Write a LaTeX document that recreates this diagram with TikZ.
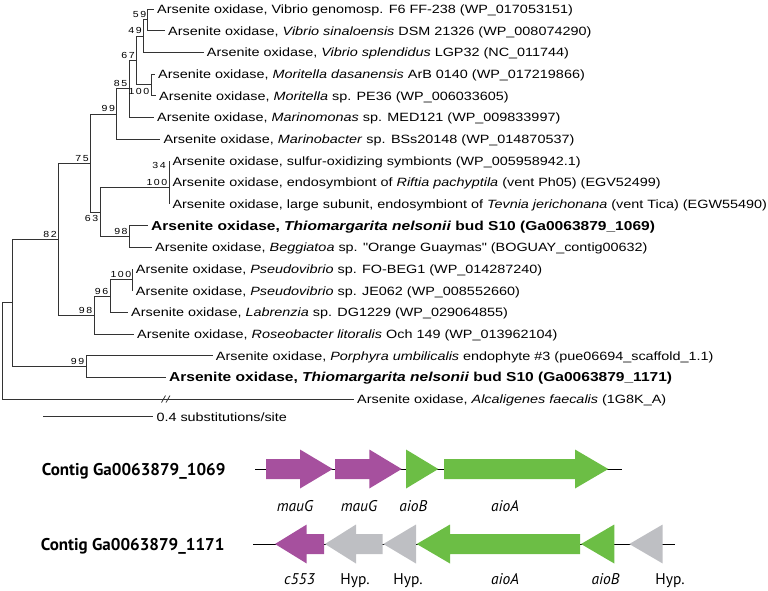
\documentclass[tikz,border=0pt]{standalone}
\usepackage{fontspec}
\setmainfont{Liberation Sans}
\newfontfamily\treefont[FakeStretch=1.2]{Liberation Sans}
\newfontfamily\genefont{PT Sans}
\definecolor{purp}{RGB}{166,80,158}
\definecolor{grn}{RGB}{108,190,69}
\definecolor{gry}{RGB}{190,191,195}
\newcommand\GeneArrow[5]{\fill[#5] (#1,#4-10) -- (#2,#4-10) -- (#2,#4-19.5) -- (#3,#4) -- (#2,#4+19.5) -- (#2,#4+10) -- (#1,#4+10) -- cycle;}
\newcommand\GeneTri[4]{\fill[#4] (#1,#3-19.5) -- (#2,#3) -- (#1,#3+19.5) -- cycle;}
\begin{document}
\begin{tikzpicture}[x=1pt,y=-1pt,
  br/.style={line width=0.9pt, draw=black!80},
  leaf/.style={anchor=west, inner xsep=3pt, inner ysep=0pt, text height=8.6pt, text depth=0pt, font=\treefont\fontsize{12}{14}\selectfont},
  bleaf/.style={leaf, text height=9.2pt, font=\treefont\bfseries\fontsize{12.95}{15}\selectfont},
  bs/.style={anchor=south east, inner sep=0pt, font=\treefont\fontsize{8.8}{10}\selectfont\addfontfeature{LetterSpace=18}},
  bsb/.style={bs, anchor=north east},
  glab/.style={anchor=base, inner sep=0pt, font=\genefont\itshape\fontsize{15.5}{18}\selectfont},
  hlab/.style={anchor=base, inner sep=0pt, font=\genefont\fontsize{15.5}{18}\selectfont},
  contig/.style={anchor=base west, inner sep=0pt, font=\genefont\bfseries\fontsize{17}{20}\selectfont},
  bb/.style={line width=0.9pt, draw=black}]
\useasboundingbox (0,0) rectangle (768,590);
% leaves
\node[leaf] (l1) at (154,9) {Arsenite oxidase, Vibrio genomosp. F6 FF-238 (WP\_017053151)};
\node[leaf] (l2) at (165,30.7) {Arsenite oxidase, \textit{Vibrio sinaloensis} DSM 21326 (WP\_008074290)};
\node[leaf] (l3) at (203.7,52.3) {Arsenite oxidase, \textit{Vibrio splendidus} LGP32 (NC\_011744)};
\node[leaf] (l4) at (155,74) {Arsenite oxidase, \textit{Moritella dasanensis} ArB 0140 (WP\_017219866)};
\node[leaf] (l5) at (156,95.7) {Arsenite oxidase, \textit{Moritella} sp. PE36 (WP\_006033605)};
\node[leaf] (l6) at (154,117.3) {Arsenite oxidase, \textit{Marinomonas} sp. MED121 (WP\_009833997)};
\node[leaf] (l7) at (160.3,139) {Arsenite oxidase, \textit{Marinobacter} sp. BSs20148 (WP\_014870537)};
\node[leaf] (l8) at (169.3,160.7) {Arsenite oxidase, sulfur-oxidizing symbionts (WP\_005958942.1)};
\node[leaf] (l9) at (169.3,182.3) {Arsenite oxidase, endosymbiont of \textit{Riftia pachyptila} (vent Ph05) (EGV52499)};
\node[leaf] (l10) at (169.3,204) {Arsenite oxidase, large subunit, endosymbiont of \textit{Tevnia jerichonana} (vent Tica) (EGW55490)};
\node[bleaf] (l11) at (148,225.7) {Arsenite oxidase, \textit{Thiomargarita nelsonii} bud S10 (Ga0063879\_1069)};
\node[leaf] (l12) at (152,247.3) {Arsenite oxidase, \textit{Beggiatoa} sp. "Orange Guaymas" (BOGUAY\_contig00632)};
\node[leaf] (l13) at (132.7,269) {Arsenite oxidase, \textit{Pseudovibrio} sp. FO-BEG1 (WP\_014287240)};
\node[leaf] (l14) at (132.7,290.7) {Arsenite oxidase, \textit{Pseudovibrio} sp. JE062 (WP\_008552660)};
\node[leaf] (l15) at (128,312.3) {Arsenite oxidase, \textit{Labrenzia} sp. DG1229 (WP\_029064855)};
\node[leaf] (l16) at (134,334) {Arsenite oxidase, \textit{Roseobacter litoralis} Och 149 (WP\_013962104)};
\node[leaf] (l17) at (212.7,355.7) {Arsenite oxidase, \textit{Porphyra umbilicalis} endophyte \#3 (pue06694\_scaffold\_1.1)};
\node[bleaf] (l18) at (166,377.3) {Arsenite oxidase, \textit{Thiomargarita nelsonii} bud S10 (Ga0063879\_1171)};
\node[leaf] (l19) at (354,399) {Arsenite oxidase, \textit{Alcaligenes faecalis} (1G8K\_A)};
% internal nodes
\coordinate (n59) at (147.7,19.85);
\coordinate (n49) at (143.3,36.1);
\coordinate (nM100) at (151.7,84.85);
\coordinate (n67) at (136.7,60.5);
\coordinate (n85) at (129.3,88.9);
\coordinate (n99) at (116.7,113.95);
\coordinate (n34) at (169.3,171.5);
\coordinate (nS100) at (169.3,187.75);
\coordinate (n98) at (129,236.5);
\coordinate (n63) at (100.7,212.1);
\coordinate (n75) at (90.7,163);
\coordinate (nP100) at (132.7,279.85);
\coordinate (n96) at (110,296.1);
\coordinate (n98b) at (94,315.05);
\coordinate (n82) at (58.7,239);
\coordinate (n99b) at (86,366.5);
\coordinate (nR) at (12.3,302.75);
\coordinate (root) at (2.7,350.9);
% branches
\draw[br] (n59) |- (l1.west) (n59) |- (l2.west);
\draw[br] (n49) |- (n59) (n49) |- (l3.west);
\draw[br] (nM100) |- (l4.west) (nM100) |- (l5.west);
\draw[br] (n67) |- (n49) (n67) |- (nM100);
\draw[br] (n85) |- (n67) (n85) |- (l6.west);
\draw[br] (n99) |- (n85) (n99) |- (l7.west);
\draw[br] (n34) |- (l8.west) (n34) |- (l9.west);
\draw[br] (nS100) |- (n34) (nS100) |- (l10.west);
\draw[br] (n98) |- (l11.west) (n98) |- (l12.west);
\draw[br] (n63) |- (nS100) (n63) |- (n98);
\draw[br] (n75) |- (n99) (n75) |- (n63);
\draw[br] (nP100) |- (l13.west) (nP100) |- (l14.west);
\draw[br] (n96) |- (nP100) (n96) |- (l15.west);
\draw[br] (n98b) |- (n96) (n98b) |- (l16.west);
\draw[br] (n82) |- (n75) (n82) |- (n98b);
\draw[br] (n99b) |- (l17.west) (n99b) |- (l18.west);
\draw[br] (nR) |- (n82) (nR) |- (n99b);
\draw[br] (root) |- (nR) (root) |- (l19.west);
% break mark
\draw[br, line width=0.8pt] (161.5,402.5) -- (165.5,395.5) (166,402.5) -- (170,395.5);
% bootstrap values
\node[bs] (b59) at (146.5,17.5) {59};
\node[bs] (b49) at (142,34) {49};
\node[bsb] (bM100) at (149.5,87.8) {100};
\node[bs] (b67) at (135,58.5) {67};
\node[bs] (b85) at (127.5,87) {85};
\node[bs] (b99) at (115.2,112) {99};
\node[bs] (b34) at (166,169) {34};
\node[bs] (bS100) at (167.5,185.5) {100};
\node[bsb] (b63) at (98.5,215) {63};
\node[bs] (b75) at (89,161.5) {75};
\node[bs] (b98) at (127.8,234.5) {98};
\node[bs] (b82) at (57,237.5) {82};
\node[bs] (bP100) at (131.5,278) {100};
\node[bs] (b96) at (108.5,294.5) {96};
\node[bs] (b98b) at (92.5,313.5) {98};
\node[bs] (b99b) at (84.5,365) {99};
% scale bar
\coordinate (sbL) at (43.3,416.7);
\node[leaf] (sbT) at (153.3,416.7) {0.4 substitutions/site};
\draw[br] (sbL) -- (sbT.west);
% gene diagrams
\node[contig] (c1) at (41.7,475) {Contig Ga0063879\_1069};
\node[contig] (c2) at (40.7,550) {Contig Ga0063879\_1171};
\draw[bb] (255,469) -- (621.7,469);
\GeneArrow{266}{300}{332.7}{469}{purp}
\GeneArrow{335}{369.3}{401.7}{469}{purp}
\GeneTri{406}{438.3}{469}{grn}
\GeneArrow{444}{575}{608.3}{469}{grn}
\node[glab] (g1) at (295,511) {mauG};
\node[glab] (g2) at (359,511) {mauG};
\node[glab] (g3) at (413.3,511) {aioB};
\node[glab] (g4) at (505,511) {aioA};
\draw[bb] (253.3,544) -- (675,544);
\GeneArrow{324}{306.7}{275}{544}{purp}
\GeneArrow{382.7}{356}{325}{544}{gry}
\GeneTri{416}{383.3}{544}{gry}
\GeneArrow{580}{450}{416.7}{544}{grn}
\GeneTri{614.3}{581}{544}{grn}
\GeneTri{662.7}{629.3}{544}{gry}
\node[glab] (h1) at (299.5,584) {c553};
\node[hlab] (h2) at (355,584) {Hyp.};
\node[hlab] (h3) at (408,584) {Hyp.};
\node[glab] (h4) at (505,584) {aioA};
\node[glab] (h5) at (605.5,584) {aioB};
\node[hlab] (h6) at (670,584) {Hyp.};
\end{tikzpicture}
\end{document}
